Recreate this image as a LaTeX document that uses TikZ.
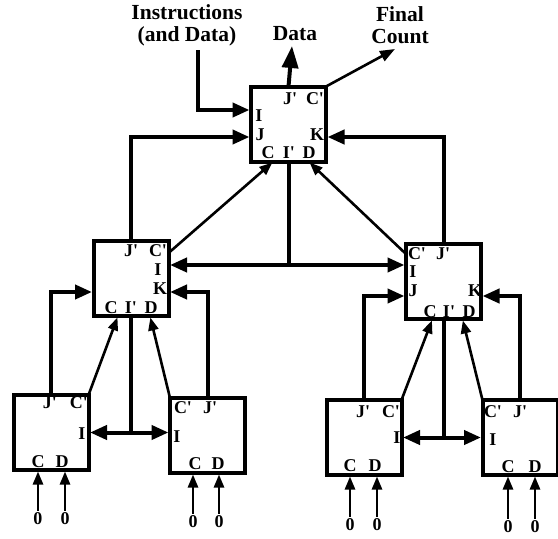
\documentclass[tikz,border=0pt]{standalone}
\usepackage{fontspec}
\setmainfont{Liberation Serif}
\usetikzlibrary{arrows.meta}
\newcommand\pr{\textquotesingle}
\begin{document}
\begin{tikzpicture}[x=1pt,y=-1pt,
  unit/.style={draw,line width=4pt,minimum width=75pt,minimum height=75pt,inner sep=0pt,outer sep=0pt},
  lbl/.style={font=\fontsize{18}{18}\selectfont\bfseries,inner sep=0pt},
  title/.style={font=\fontsize{21.5}{22}\selectfont\bfseries,inner sep=0pt,align=center},
  bus/.style={line width=4pt,shorten >=1.5pt,-{Triangle[length=17pt,width=14pt]}},
  bibus/.style={line width=4pt,shorten >=1.5pt,shorten <=1.5pt,{Triangle[length=17pt,width=14pt]}-{Triangle[length=17pt,width=14pt]}},
  wire/.style={line width=4pt},
  link/.style={line width=2.6pt,shorten >=1.5pt,-{Triangle[length=13pt,width=10pt]}},
  feed/.style={line width=2.6pt,shorten >=1.5pt,-{Triangle[length=13pt,width=10pt]}},
]
\useasboundingbox (0,0) rectangle (558,539);

% processing units
\node[unit] (T)  at (288.5,124) {};
\node[unit] (ML) at (131,278.5) {};
\node[unit] (MR) at (443.5,281.5) {};
\node[unit] (B1) at (51,432.5) {};
\node[unit] (B2) at (207.5,435.5) {};
\node[unit] (B3) at (364,437.5) {};
\node[unit] (B4) at (520,437.5) {};

% ports of the root unit
\coordinate (T-I) at ([yshift=14pt]T.west);
\coordinate (T-J) at ([yshift=-13pt]T.west);
\coordinate (T-K) at ([yshift=-13pt]T.east);
\coordinate (T-C) at ([xshift=-15pt]T.south);
\coordinate (T-D) at ([xshift=20pt]T.south);
% ports of the left middle unit
\coordinate (ML-I) at ([yshift=13.5pt]ML.east);
\coordinate (ML-K) at ([yshift=-13.5pt]ML.east);
\coordinate (ML-L) at ([yshift=-13.5pt]ML.west);
\coordinate (ML-C) at ([xshift=-13pt]ML.south);
\coordinate (ML-D) at ([xshift=19pt]ML.south);
\coordinate (ML-Cp) at ([yshift=-12pt]ML.north east);
% ports of the right middle unit
\coordinate (MR-I) at ([yshift=13.5pt]MR.west);
\coordinate (MR-J) at ([yshift=-14.5pt]MR.west);
\coordinate (MR-K) at ([yshift=-14.5pt]MR.east);
\coordinate (MR-C) at ([xshift=-11pt]MR.south);
\coordinate (MR-D) at ([xshift=19pt]MR.south);
\coordinate (MR-Cp) at ([yshift=-10pt]MR.north west);

% external terminals
\node[title] (instrlbl) at (187,25) {Instructions\\(and Data)};
\node[title] (datalbl) at (295,34) {Data};
\node[title] (countlbl) at (400,25) {Final\\Count};
\coordinate (instr) at (198,50);
\coordinate (dataout) at (292,46);
\coordinate (count) at (395,49);

\draw[bus] (instr) |- (T-I);
\draw[line width=4pt,-{Triangle[length=22pt,width=16pt]}] (T.north) -- (dataout);
\draw[line width=2.6pt,-{Triangle[length=15pt,width=11pt]}] (T.north east) -- (count);

% middle level to root
\draw[bus] (ML.north) |- (T-J);
\draw[bus] (MR.north) |- (T-K);
\draw[link] (ML-Cp) -- (T-C);
\draw[link] (MR-Cp) -- (T-D);
\draw[bibus] (ML-I) -- (ML-I -| MR.west);
\draw[wire] (T.south) -- (T.south |- ML-I);

% leaves to left middle unit
\draw[bus] (B1.north) |- (ML-L);
\draw[bus] (B2.north) |- (ML-K);
\draw[link] (B1.north east) -- (ML-C);
\draw[link] (B2.north west) -- (ML-D);
\draw[bibus] (B1.east) -- (B1.east -| B2.west);
\draw[wire] (ML.south) -- (ML.south |- B1.east);

% leaves to right middle unit
\draw[bus] (B3.north) |- (MR-J);
\draw[bus] (B4.north) |- (MR-K);
\draw[link] (B3.north east) -- (MR-C);
\draw[link] (B4.north west) -- (MR-D);
\draw[bibus] (B3.east) -- (B3.east -| B4.west);
\draw[wire] (MR.south) -- (MR.south |- B3.east);

% port labels: root
\node[lbl] (t-jp) at (290,99) {J\pr};
\node[lbl] (t-cp) at (315,99) {C\pr};
\node[lbl] (t-i) at (259,116) {I};
\node[lbl] (t-j) at (260,135) {J};
\node[lbl] (t-k) at (317,135) {K};
\node[lbl] (t-c) at (268,153) {C};
\node[lbl] (t-ip) at (289,153) {I\pr};
\node[lbl] (t-d) at (309,153) {D};
% port labels: left middle
\node[lbl] (ml-jp) at (131,251) {J\pr};
\node[lbl] (ml-cp) at (158,251) {C\pr};
\node[lbl] (ml-i) at (158,270) {I};
\node[lbl] (ml-k) at (160,289) {K};
\node[lbl] (ml-c) at (111,308) {C};
\node[lbl] (ml-ip) at (131,308) {I\pr};
\node[lbl] (ml-d) at (151,308) {D};
% port labels: right middle
\node[lbl] (mr-cp) at (417,254) {C\pr};
\node[lbl] (mr-jp) at (443,254) {J\pr};
\node[lbl] (mr-i) at (413,272) {I};
\node[lbl] (mr-j) at (413,291) {J};
\node[lbl] (mr-k) at (475,291) {K};
\node[lbl] (mr-c) at (430,312) {C};
\node[lbl] (mr-ip) at (449,312) {I\pr};
\node[lbl] (mr-d) at (469,312) {D};
% port labels: leaves
\node[lbl] (b1-jp) at (50,403) {J\pr};
\node[lbl] (b1-cp) at (79,403) {C\pr};
\node[lbl] (b1-i) at (82,434) {I};
\node[lbl] (b1-c) at (38,462) {C};
\node[lbl] (b1-d) at (62,462) {D};
\node[lbl] (b2-cp) at (183,408) {C\pr};
\node[lbl] (b2-jp) at (210,408) {J\pr};
\node[lbl] (b2-i) at (177,437) {I};
\node[lbl] (b2-c) at (195,464) {C};
\node[lbl] (b2-d) at (218,464) {D};
\node[lbl] (b3-jp) at (363,412) {J\pr};
\node[lbl] (b3-cp) at (391,412) {C\pr};
\node[lbl] (b3-i) at (397,438) {I};
\node[lbl] (b3-c) at (350,466) {C};
\node[lbl] (b3-d) at (375,466) {D};
\node[lbl] (b4-cp) at (493,412) {C\pr};
\node[lbl] (b4-jp) at (520,412) {J\pr};
\node[lbl] (b4-i) at (493,440) {I};
\node[lbl] (b4-c) at (508,467) {C};
\node[lbl] (b4-d) at (535,467) {D};

% zero inputs of the leaves
\node[lbl] (z11) at (38,519) {0};
\node[lbl] (z12) at (65,519) {0};
\node[lbl] (z21) at (193,522) {0};
\node[lbl] (z22) at (219,522) {0};
\node[lbl] (z31) at (350,525) {0};
\node[lbl] (z32) at (377,525) {0};
\node[lbl] (z41) at (508,527) {0};
\node[lbl] (z42) at (535,527) {0};
\foreach \z/\b in {z11/B1,z12/B1,z21/B2,z22/B2,z31/B3,z32/B3,z41/B4,z42/B4}
  \draw[feed] ([yshift=2pt]\z.north) -- (\z.north |- \b.south);
\end{tikzpicture}
\end{document}
